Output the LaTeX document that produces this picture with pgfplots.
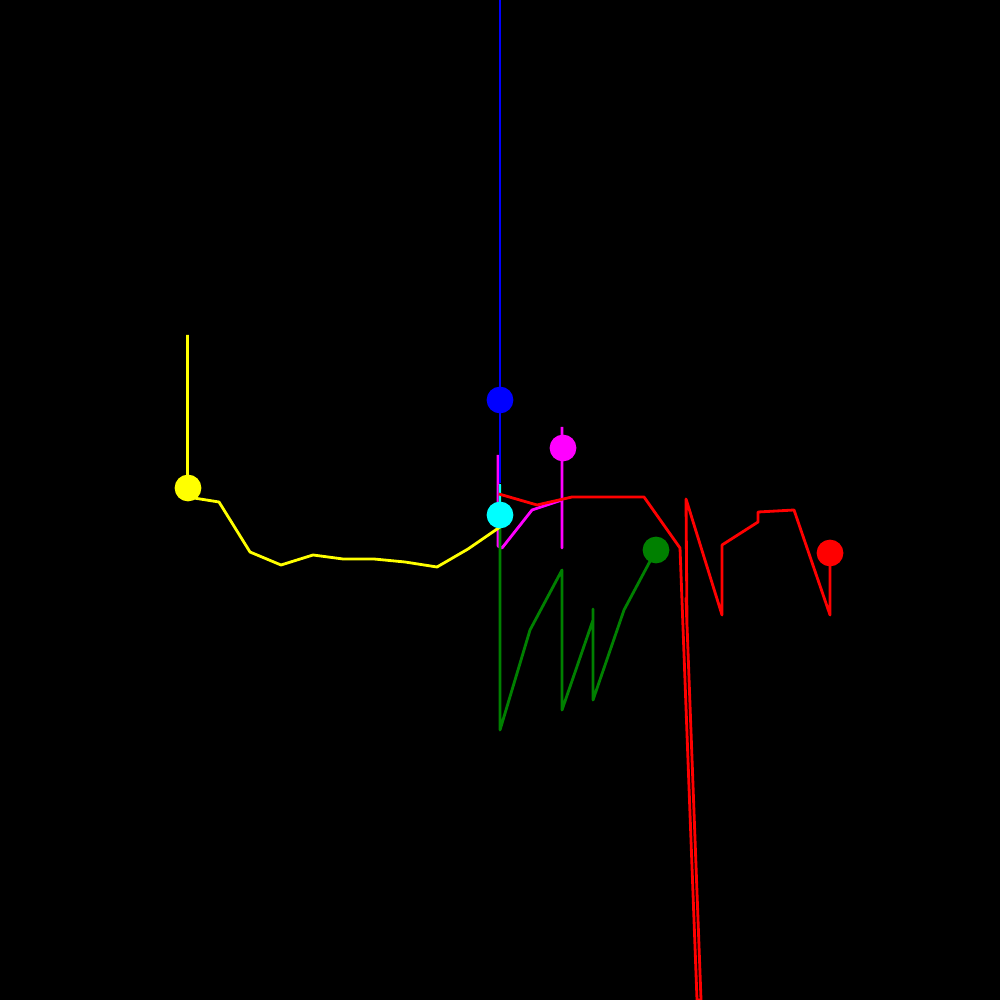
\documentclass[border=0pt]{standalone}
\usepackage{pgfplots}
\pgfplotsset{compat=1.18}
\definecolor{cgreen}{RGB}{0,128,0}
\definecolor{cyel}{RGB}{255,255,0}
\definecolor{cblue}{RGB}{0,0,255}
\definecolor{cmag}{RGB}{255,0,255}
\definecolor{ccyan}{RGB}{0,255,255}
\definecolor{cred}{RGB}{255,0,0}
\begin{document}
\begin{tikzpicture}
\begin{axis}[
  scale only axis, width=10cm, height=10cm,
  xmin=0, xmax=1000, ymin=0, ymax=1000, y dir=reverse,
  hide axis, clip=true,
  every axis plot/.append style={line width=0.8pt, line join=round},
]
\fill[black] (rel axis cs:0,0) rectangle (rel axis cs:1,1);
% magenta
\addplot[cmag, mark=none] coordinates {(498,455) (498,546) (502,548) (532,510) (562,500) (562,548) (562,427)};
% blue
\addplot[cblue, mark=none] coordinates {(500,0) (500,483)};
% green
\addplot[cgreen, mark=none] coordinates {(500,485) (500,690) (500,730) (530,630) (562,570) (562,710) (593,620) (593,609) (593,700) (624,610) (656,550)};
% yellow
\addplot[cyel, mark=none] coordinates {(187.5,335) (187.5,497) (219,502) (250,552) (281,565) (313,555) (343,559) (374,559) (405,562) (437,567) (468,549) (500,527)};
% cyan
\addplot[ccyan, mark=none] coordinates {(500,484) (500,515)};
% red
\addplot[cred, mark=none] coordinates {(499,494) (537,505) (572,497) (644,497) (680,548) (697,1000) (701,1000) (686,598) (687,628) (686,499) (722,615) (722,545) (758,522) (758,512) (794,510) (830,615) (830,553)};
% markers
\addplot[only marks, mark=*, mark size=3.4pt, cyel] coordinates {(188,488)};
\addplot[only marks, mark=*, mark size=3.4pt, cblue] coordinates {(500,400)};
\addplot[only marks, mark=*, mark size=3.4pt, cmag] coordinates {(563,448)};
\addplot[only marks, mark=*, mark size=3.4pt, ccyan] coordinates {(500,515)};
\addplot[only marks, mark=*, mark size=3.4pt, cgreen] coordinates {(656,550)};
\addplot[only marks, mark=*, mark size=3.4pt, cred] coordinates {(830,553)};
\end{axis}
\end{tikzpicture}
\end{document}
